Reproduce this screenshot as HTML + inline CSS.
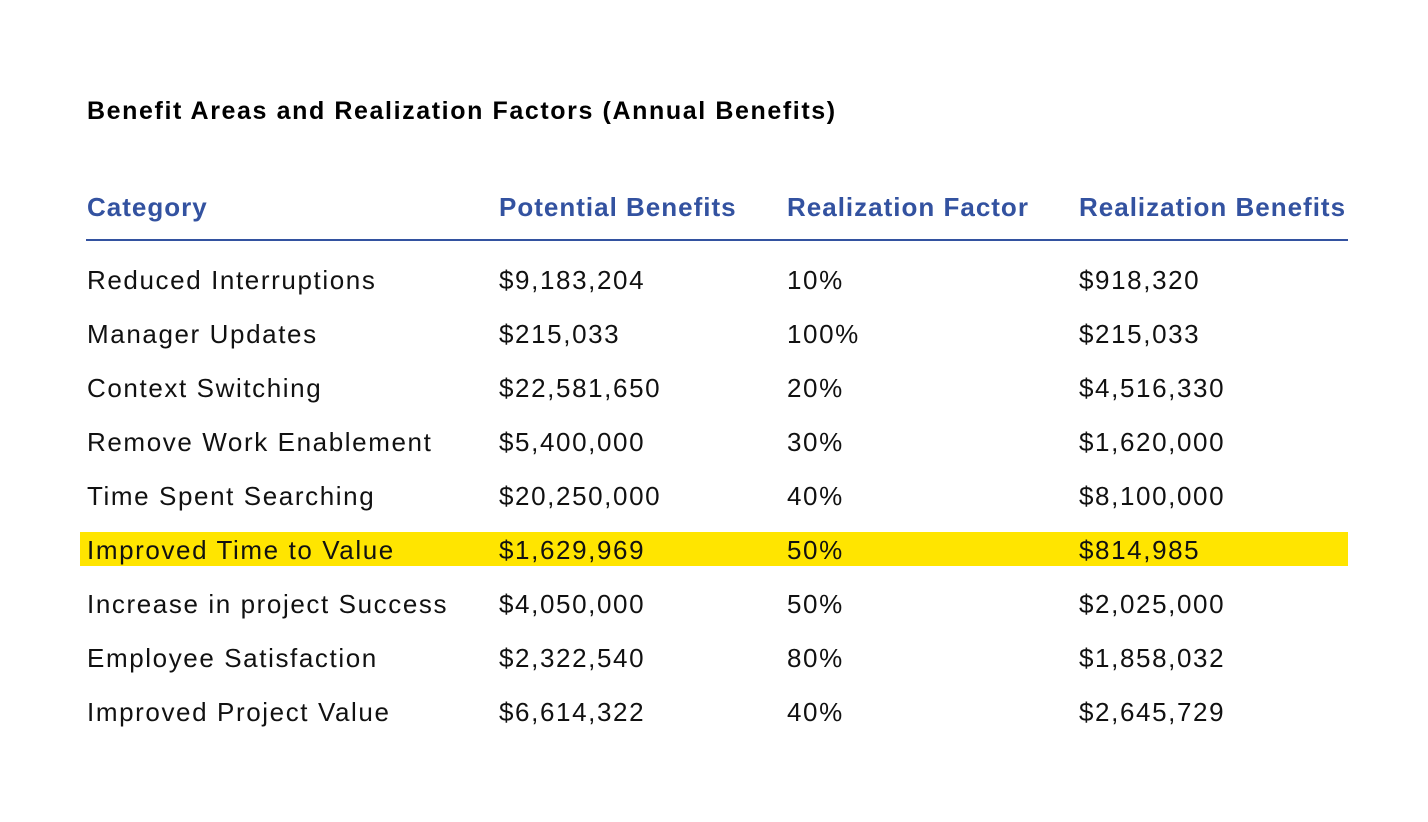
<!DOCTYPE html>
<html><head><meta charset="utf-8"><style>
body{margin:0;width:1428px;height:822px;background:#fff;font-family:"Liberation Sans",sans-serif;position:relative;overflow:hidden}
.t{position:absolute;white-space:nowrap;line-height:1}
.title{left:87px;top:99px;font-size:25px;font-weight:bold;color:#000;letter-spacing:1.6px}
.h{font-size:26px;font-weight:bold;color:#3352a0;top:194px;letter-spacing:1px}
.c{font-size:26px;color:#111;letter-spacing:1.6px}
#rule{position:absolute;left:86px;top:239px;width:1262px;height:2px;background:#3352a0}
#hl{position:absolute;left:80px;top:532px;width:1268px;height:34px;background:#ffe500}
</style></head><body>
<div class="t title">Benefit Areas and Realization Factors (Annual Benefits)</div>
<div class="t h" style="left:87px">Category</div>
<div class="t h" style="left:499px">Potential Benefits</div>
<div class="t h" style="left:787px">Realization Factor</div>
<div class="t h" style="left:1079px">Realization Benefits</div>
<div id="rule"></div>
<div id="hl"></div>
<div id="rows"></div>
<script>
const categories=["Reduced Interruptions","Manager Updates","Context Switching","Remove Work Enablement","Time Spent Searching","Improved Time to Value","Increase in project Success","Employee Satisfaction","Improved Project Value"];
const potential=["$9,183,204","$215,033","$22,581,650","$5,400,000","$20,250,000","$1,629,969","$4,050,000","$2,322,540","$6,614,322"];
const factor=["10%","100%","20%","30%","40%","50%","50%","80%","40%"];
const realized=["$918,320","$215,033","$4,516,330","$1,620,000","$8,100,000","$814,985","$2,025,000","$1,858,032","$2,645,729"];
const cols=[87,499,787,1079];
const host=document.getElementById('rows');
categories.forEach((c,i)=>{
  [c,potential[i],factor[i],realized[i]].forEach((v,j)=>{
    const d=document.createElement('div');
    d.className='t c';
    d.style.left=cols[j]+'px';
    d.style.top=(267+i*54)+'px';
    d.textContent=v;
    
    
    host.appendChild(d);
  });
});
</script>
</body></html>
